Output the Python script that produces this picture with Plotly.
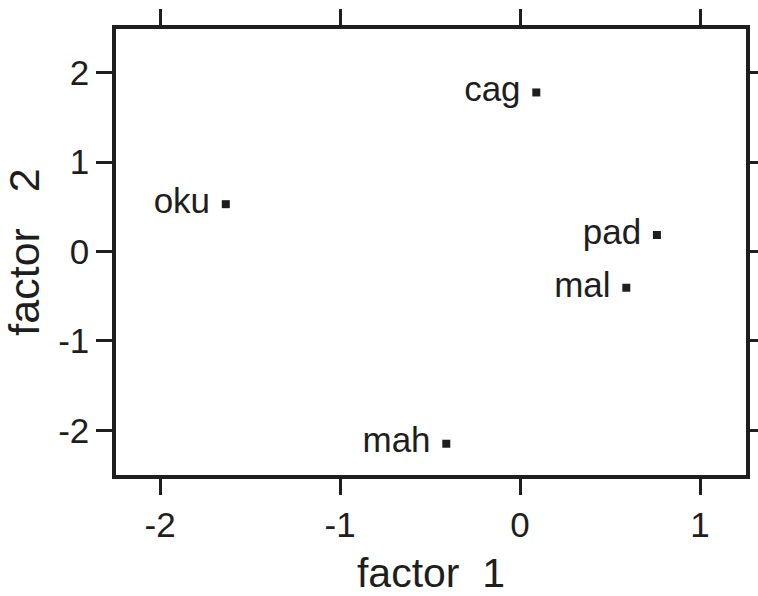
import plotly.graph_objects as go

names = ["cag", "oku", "pad", "mal", "mah"]
factor1 = [0.09, -1.635, 0.76, 0.59, -0.41]
factor2 = [1.78, 0.53, 0.185, -0.405, -2.15]

xticks = [-2, -1, 0, 1]
yticks = [-2, -1, 0, 1, 2]

FONT = "Liberation Sans, Arial, Helvetica, sans-serif"
INK = "#1e1e1e"

fig = go.Figure(
    go.Scatter(
        x=factor1,
        y=factor2,
        mode="markers+text",
        text=[n + "\u00a0" for n in names],
        textposition="middle left",
        marker=dict(symbol="square", size=8, color=INK),
        textfont=dict(family=FONT, size=35, color=INK),
        showlegend=False,
        hoverinfo="skip",
    )
)

axis_common = dict(
    showline=True,
    linecolor=INK,
    linewidth=3.5,
    mirror="ticks",
    ticks="outside",
    ticklen=16,
    tickwidth=3,
    tickcolor=INK,
    showgrid=False,
    zeroline=False,
    automargin=False,
    tickfont=dict(family=FONT, size=35, color=INK),
)

fig.update_xaxes(
    range=[-2.245, 1.255],
    tickvals=xticks,
    ticktext=[str(v) for v in xticks],
    title=dict(text="factor\u00a0\u00a01", font=dict(family=FONT, size=41, color=INK), standoff=20),
    **axis_common,
)
fig.update_yaxes(
    range=[-2.5, 2.49],
    tickvals=yticks,
    ticktext=[str(v) for v in yticks],
    title=dict(text="factor\u00a0\u00a0\u00a02", font=dict(family=FONT, size=43, color=INK), standoff=12),
    **axis_common,
)

fig.update_layout(
    width=758,
    height=596,
    margin=dict(l=116, r=12, t=29, b=121),
    plot_bgcolor="white",
    paper_bgcolor="white",
)

fig.write_html("out.html")
